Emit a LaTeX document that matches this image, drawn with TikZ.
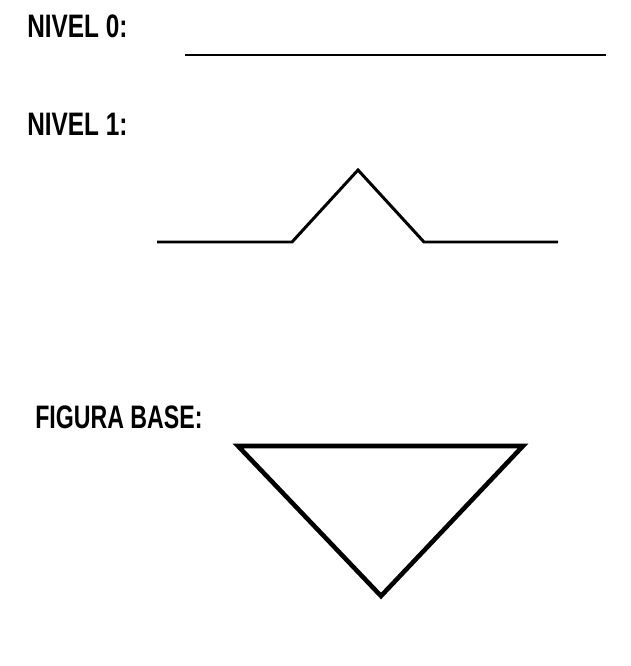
\documentclass[tikz,border=0pt]{standalone}
\usepackage{fontspec}
\setmainfont{Liberation Sans}
\usepackage{tikz}
\usetikzlibrary{positioning}

\begin{document}
\begin{tikzpicture}[
    x=0.02cm, y=-0.02cm,
    titulo/.style={anchor=base west, inner sep=0pt, xscale=0.75,
                   font=\fontsize{18.5}{18.5}\selectfont\bfseries},
    trazo/.style={line width=1.7pt, line join=miter},
    base/.style={line width=2.6pt, line join=miter}
]
    \useasboundingbox (0,0) rectangle (631,666);

    % nivel 0
    \node[titulo] (n0) at (27,37) {NIVEL 0:};
    \coordinate (a0) at (185,55);
    \coordinate (b0) at (606,55);
    \draw[trazo] (a0) -- (b0);

    % nivel 1
    \node[titulo] (n1) at (27,135) {NIVEL 1:};
    \coordinate (a1) at (157,242);
    \coordinate (b1) at (292,242);
    \coordinate (c1) at (358,170);
    \coordinate (d1) at (424,242);
    \coordinate (e1) at (558,242);
    \draw[trazo] (a1) -- (b1) -- (c1) -- (d1) -- (e1);

    % figura base
    \node[titulo, xscale=0.95] (fb) at (35,428) {FIGURA BASE:};
    \coordinate (t1) at (238,446);
    \coordinate (t2) at (523,446);
    \coordinate (t3) at (381,596);
    \draw[base] (t1) -- (t2) -- (t3) -- cycle;
\end{tikzpicture}
\end{document}
